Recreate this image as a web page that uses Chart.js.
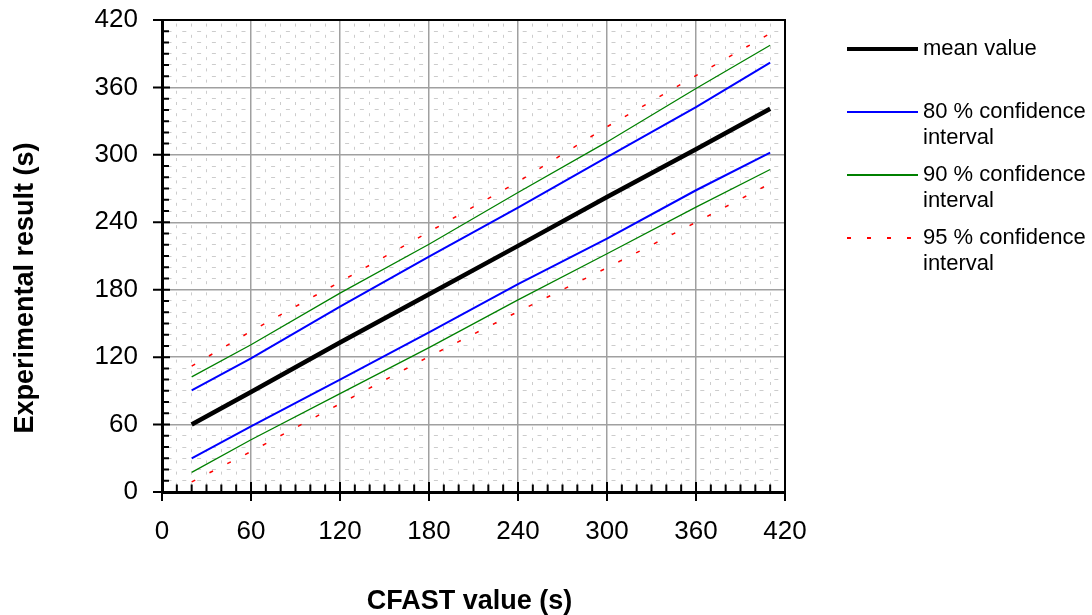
<!DOCTYPE html>
<html lang="en">
<head>
  <meta charset="UTF-8">
  <title>CFAST value vs experimental result</title>
  <script src="https://cdn.jsdelivr.net/npm/chart.js"></script>
  <style>
    html, body {
      margin: 0;
      padding: 0;
      background: #fff;
    }
    #wrap {
      position: relative;
      width: 1092px;
      height: 615px;
      font-family: "Liberation Sans", Arial, sans-serif;
    }
    .entry {
      position: absolute;
      left: 847px;
      font-size: 22px;
      line-height: 25.5px;
      color: #000;
    }
    .entry .sample {
      position: absolute;
      left: 0;
      width: 71px;
    }
    .entry .text {
      position: absolute;
      left: 76px;
      top: 0;
      white-space: nowrap;
    }
  </style>
</head>
<body>
  <div id="wrap">
    <canvas id="ciChart"></canvas>
    <div id="legend"></div>
  </div>

  <script>
    // CFAST value (s) where each curve was evaluated
    const cfastValues = [20, 60, 120, 180, 240, 300, 360, 410];

    // experimental result (s)
    const meanValue = [60, 89, 133, 176, 219, 262.5, 305, 341];
    const ci80Upper = [90.5, 119, 165, 209.5, 253, 298, 342.5, 382];
    const ci80Lower = [30, 58.5, 100, 142, 185, 225.5, 268.5, 302];
    const ci90Upper = [102.5, 131, 177, 220.5, 266.5, 311.5, 359, 397.5];
    const ci90Lower = [17.5, 46.5, 87.5, 128.5, 171, 212, 253.5, 287];
    const ci95Upper = [112, 143, 187, 231.5, 276, 325, 370.5, 408];
    const ci95Lower = [9, 36, 78.5, 120.5, 160.5, 199.5, 240, 274.5];

    const axisMin = 0;
    const axisMax = 420;
    const majorStep = 60;
    const minorStep = 10;

    const xTitle = "CFAST value (s)";
    const yTitle = "Experimental result (s)";

    const FONT = '"Liberation Sans", Arial, sans-serif';

    const toPoints = (vals) => vals.map((v, i) => ({ x: cfastValues[i], y: v }));

    const styles = {
      mean: { color: '#000000', width: 4.5, dash: [] },
      ci80: { color: '#0000ff', width: 2, dash: [] },
      ci90: { color: '#008000', width: 1.3, dash: [] },
      ci95: { color: '#ff0000', width: 1.5, dash: [4, 16] }
    };

    function line(label, vals, st) {
      return {
        label: label,
        data: toPoints(vals),
        borderColor: st.color,
        borderWidth: st.width,
        borderDash: st.dash,
        pointRadius: 0,
        fill: false,
        tension: 0
      };
    }

    const isMajor = (v) => v % majorStep === 0;

    // tick marks, top/right frame and axis titles
    const framePlugin = {
      id: 'framePlugin',
      afterDraw(chart) {
        const { ctx, chartArea: a, scales: { x, y } } = chart;
        ctx.save();
        ctx.strokeStyle = '#000';
        ctx.lineWidth = 2;
        ctx.beginPath();
        ctx.moveTo(a.left, a.top);
        ctx.lineTo(a.right, a.top);
        ctx.lineTo(a.right, a.bottom);
        ctx.stroke();

        ctx.beginPath();
        x.ticks.forEach(t => {
          const px = x.getPixelForValue(t.value);
          const major = isMajor(t.value);
          ctx.moveTo(px, a.bottom + (major ? 9 : 0));
          ctx.lineTo(px, a.bottom - (major ? 10 : 7.5));
        });
        y.ticks.forEach(t => {
          const py = y.getPixelForValue(t.value);
          const major = isMajor(t.value);
          ctx.moveTo(a.left - (major ? 9 : 0), py);
          ctx.lineTo(a.left + (major ? 8 : 7), py);
        });
        ctx.stroke();

        ctx.fillStyle = '#000';
        ctx.font = 'bold 27px ' + FONT;
        ctx.textAlign = 'center';
        ctx.textBaseline = 'middle';
        ctx.fillText(xTitle, (a.left + a.right) / 2 - 4, a.bottom + 110);
        ctx.translate(26, (a.top + a.bottom) / 2 + 32);
        ctx.rotate(-Math.PI / 2);
        ctx.fillText(yTitle, 0, 0);
        ctx.restore();
      }
    };

    function axis(fitFn) {
      return {
        type: 'linear',
        min: axisMin,
        max: axisMax,
        afterFit: fitFn,
        ticks: {
          stepSize: minorStep,
          autoSkip: false,
          maxRotation: 0,
          minRotation: 0,
          padding: 24,
          color: '#000',
          font: { size: 26, family: FONT },
          callback: v => isMajor(v) ? v : ''
        },
        grid: {
          drawTicks: false,
          color: c => isMajor(c.tick.value) ? '#a0a0a0' : '#cccccc',
          lineWidth: c => isMajor(c.tick.value) ? 1.5 : 1
        },
        border: {
          display: true,
          color: '#000',
          width: 3,
          dash: c => (c.tick && !isMajor(c.tick.value)) ? (c.scale.axis === 'x' ? [3, 8.2] : [4, 10.8]) : [],
          dashOffset: c => c.scale.axis === 'x' ? 7.6 : 11.3
        }
      };
    }

    Chart.defaults.font.family = FONT;
    Chart.defaults.color = '#000';

    const chart = new Chart(document.getElementById('ciChart'), {
      type: 'line',
      data: {
        datasets: [
          line('mean value', meanValue, styles.mean),
          line('80 % confidence interval', ci80Upper, styles.ci80),
          line('80 % confidence interval', ci80Lower, styles.ci80),
          line('90 % confidence interval', ci90Upper, styles.ci90),
          line('90 % confidence interval', ci90Lower, styles.ci90),
          line('95 % confidence interval', ci95Upper, styles.ci95),
          line('95 % confidence interval', ci95Lower, styles.ci95)
        ]
      },
      options: {
        responsive: true,
        maintainAspectRatio: false,
        animation: false,
        layout: { padding: { top: 20, right: 307, left: 0, bottom: 0 } },
        plugins: {
          legend: { display: false },
          tooltip: { enabled: false }
        },
        scales: {
          x: axis(s => {
            s.height = 123;
            s.paddingLeft = 0;
            s.paddingRight = 0;
          }),
          y: axis(s => {
            s.width = 162;
            s.paddingTop = 0;
            s.paddingBottom = 0;
          })
        }
      },
      plugins: [framePlugin]
    });

    // legend beside the plot, one entry per series
    const legendItems = [
      { lines: ['mean value'], st: styles.mean },
      { lines: ['80 % confidence', 'interval'], st: styles.ci80 },
      { lines: ['90 % confidence', 'interval'], st: styles.ci90 },
      { lines: ['95 % confidence', 'interval'], st: styles.ci95 }
    ];
    const legendEl = document.getElementById('legend');
    legendItems.forEach((item, i) => {
      const entry = document.createElement('div');
      entry.className = 'entry';
      entry.style.top = (35.3 + i * 63) + 'px';

      const sample = document.createElement('div');
      sample.className = 'sample';
      sample.style.height = item.st.width + 'px';
      sample.style.top = (13.8 - item.st.width / 2) + 'px';
      if (item.st.dash.length) {
        const d = item.st.dash;
        sample.style.background = `repeating-linear-gradient(to right, ${item.st.color} 0 ${d[0]}px, transparent ${d[0]}px ${d[0] + d[1]}px)`;
      } else {
        sample.style.background = item.st.color;
      }

      const text = document.createElement('div');
      text.className = 'text';
      text.innerHTML = item.lines.join('<br>');

      entry.appendChild(sample);
      entry.appendChild(text);
      legendEl.appendChild(entry);
    });
  </script>
</body>
</html>
